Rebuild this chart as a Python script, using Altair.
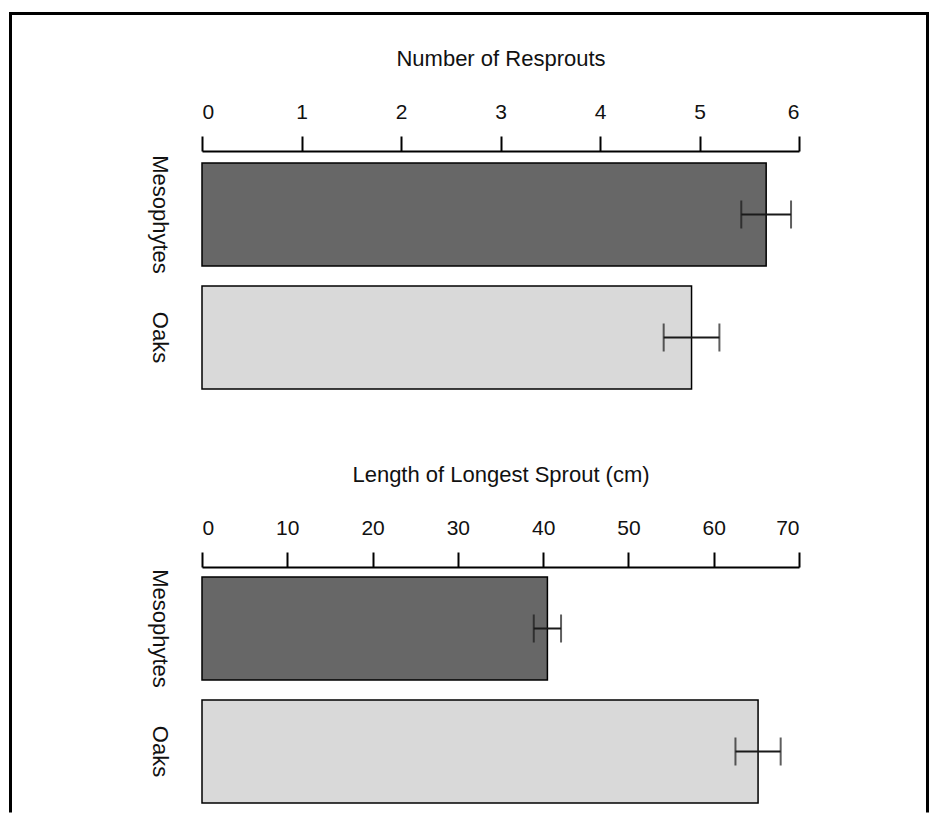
import altair as alt
import pandas as pd

groups = ["Mesophytes", "Oaks"]
resprouts = [5.67, 4.92]
resprout_err = [0.25, 0.28]
lengths = [40.5, 65.2]
length_err = [1.6, 2.65]
resprout_ticks = [0, 1, 2, 3, 4, 5, 6]
length_ticks = [0, 10, 20, 30, 40, 50, 60, 70]
bar_colors = ["#676767", "#d9d9d9"]

FONT = "Liberation Sans"


def make_df(vals, errs):
    return pd.DataFrame({
        "group": groups,
        "value": vals,
        "lo": [v - e for v, e in zip(vals, errs)],
        "hi": [v + e for v, e in zip(vals, errs)],
    })


def panel(df, title, domain, ticks, align, extra=None):
    y = alt.Y("group:N", sort=groups,
              scale=alt.Scale(paddingInner=0.1626, paddingOuter=0.065, align=align),
              axis=alt.Axis(title=None, labelAngle=90, labelAlign="center",
                            labelBaseline="middle", ticks=False, tickSize=0,
                            domain=False, labelPadding=43, labelFontSize=22,
                            labelColor="#111", labelFont=FONT))
    xs = alt.Scale(domain=domain, nice=False, zero=True)
    xaxis = alt.Axis(orient="top", title=title, values=ticks, format="d",
                     grid=False, domainColor="black", domainWidth=2,
                     tickColor="black", tickWidth=2, tickSize=15,
                     labelFontSize=21, labelPadding=14, labelColor="#111",
                     labelFont=FONT, titleFont=FONT, titleFontSize=22,
                     titleFontWeight="normal", titleColor="#111",
                     titlePadding=31)
    base = alt.Chart(df)
    bars = base.mark_bar(stroke="black", strokeWidth=1.5).encode(
        x=alt.X("value:Q", scale=xs, axis=xaxis),
        y=y,
        color=alt.Color("group:N", scale=alt.Scale(domain=groups, range=bar_colors),
                        legend=None),
    )
    err = base.mark_rule(color="#1a1a1a", strokeWidth=2).encode(
        x="lo:Q", x2="hi:Q", y=alt.Y("group:N", sort=groups))
    cap_lo = base.mark_tick(color="#1a1a1a", thickness=2, size=28).encode(
        x="lo:Q", y=alt.Y("group:N", sort=groups))
    cap_hi = base.mark_tick(color="#1a1a1a", thickness=2, size=28).encode(
        x="hi:Q", y=alt.Y("group:N", sort=groups))
    layers = [bars, err, cap_lo, cap_hi]
    if extra:
        layers += extra
    return alt.layer(*layers).properties(width=597, height=242)


frame_data = alt.Data(values=[{"k": 1}])
frame_style = dict(color="black", strokeWidth=3, strokeCap="square")
left = alt.Chart(frame_data).mark_rule(**frame_style).encode(
    x=alt.value(-191.5), y=alt.value(-137.5), y2=alt.value(660))
top = alt.Chart(frame_data).mark_rule(**frame_style).encode(
    x=alt.value(-191.5), x2=alt.value(725.5), y=alt.value(-137.5))
right = alt.Chart(frame_data).mark_rule(**frame_style).encode(
    x=alt.value(725.5), y=alt.value(-137.5), y2=alt.value(660))

p1 = panel(make_df(resprouts, resprout_err), "Number of Resprouts", [0, 6],
           resprout_ticks, 0.75, extra=[left, top, right])
p2 = panel(make_df(lengths, length_err), "Length of Longest Sprout (cm)", [0, 70],
           length_ticks, 0.625)

chart = alt.vconcat(p1, p2, spacing=174, bounds="flush").resolve_scale(
    x="independent", y="independent", color="independent"
).properties(
    padding={"left": 0, "top": 3, "right": 0, "bottom": 0}
).configure_view(stroke=None)

chart.save("out.html", embed_options={"renderer": "svg", "actions": False})
